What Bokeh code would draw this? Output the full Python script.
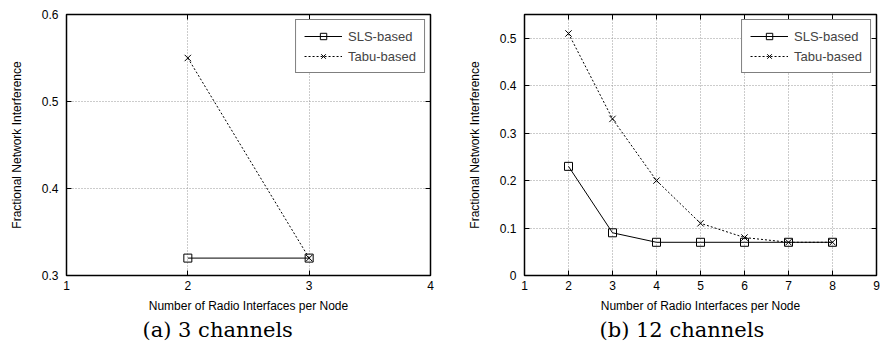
from bokeh.plotting import figure
from bokeh.layouts import row
from bokeh.models import (Range1d, FixedTicker, LinearAxis, Legend, LegendItem, Title,
                          CustomJSTickFormatter)
from bokeh.embed import file_html
from bokeh.resources import INLINE

# ---- data ----
a_x = [2, 3]
a_sls = [0.32, 0.32]
a_tabu = [0.55, 0.32]
a_xticks = [1, 2, 3, 4]
a_yticks = [0.3, 0.4, 0.5, 0.6]

b_x = [2, 3, 4, 5, 6, 7, 8]
b_sls = [0.23, 0.09, 0.07, 0.07, 0.07, 0.07, 0.07]
b_tabu = [0.51, 0.33, 0.20, 0.11, 0.08, 0.07, 0.07]
b_xticks = [1, 2, 3, 4, 5, 6, 7, 8, 9]
b_yticks = [0, 0.1, 0.2, 0.3, 0.4, 0.5]

series_names = ["SLS-based", "Tabu-based"]
captions = ["(a) 3 channels", "(b) 12 channels"]
xlabel = "Number of Radio Interfaces per Node"
ylabel = "Fractional Network Interference"

SANS = "Liberation Sans"
SERIF = "DejaVu Serif"


def style_axis(ax):
    ax.major_tick_in = 5
    ax.major_tick_out = 0
    ax.minor_tick_line_color = None
    ax.axis_line_color = "black"
    ax.major_tick_line_color = "black"
    ax.major_label_text_font = SANS
    ax.major_label_text_font_size = "12px"
    ax.major_label_text_color = "black"
    ax.axis_label_text_font = SANS
    ax.axis_label_text_font_size = "12px"
    ax.axis_label_text_font_style = "normal"
    ax.axis_label_text_color = "black"


def make_panel(xs, sls, tabu, xr, yr, xticks, yticks, caption, w, bl, br, overrides, cap_off):
    p = figure(width=w, height=341, output_backend="svg", toolbar_location=None,
               x_range=Range1d(*xr), y_range=Range1d(*yr),
               min_border_left=bl, min_border_right=br, min_border_top=14,
               min_border_bottom=62)
    p.background_fill_color = "white"
    p.border_fill_color = "white"
    p.outline_line_color = "black"
    p.outline_line_width = 1.5

    p.xaxis.ticker = FixedTicker(ticks=xticks)
    p.yaxis.ticker = FixedTicker(ticks=yticks)
    p.yaxis.major_label_overrides = overrides
    for ax in p.xaxis + p.yaxis:
        style_axis(ax)
    p.xaxis.axis_label = xlabel
    p.yaxis.axis_label = ylabel
    p.xaxis.major_label_standoff = 5
    p.xaxis.axis_label_standoff = 6
    p.yaxis.major_label_standoff = 8
    p.yaxis.axis_label_standoff = 15

    empty = CustomJSTickFormatter(code="return ''")
    top = LinearAxis(ticker=FixedTicker(ticks=xticks), formatter=empty)
    right = LinearAxis(ticker=FixedTicker(ticks=yticks), formatter=empty)
    for ax in (top, right):
        style_axis(ax)
        ax.major_label_standoff = 0
        ax.axis_label_standoff = 0
    p.add_layout(top, "above")
    p.add_layout(right, "right")

    for g in (p.xgrid[0], p.ygrid[0]):
        g.grid_line_color = "#999999"
        g.grid_line_dash = "1 2"
        g.grid_line_width = 1
    p.xgrid.ticker = FixedTicker(ticks=xticks)
    p.ygrid.ticker = FixedTicker(ticks=yticks)

    l1 = p.line(xs, sls, line_color="black", line_width=1)
    m1 = p.scatter(xs, sls, marker="square", size=8, fill_color=None,
                   line_color="black", line_width=1)
    l2 = p.line(xs, tabu, line_color="black", line_width=1, line_dash="2 2")
    m2 = p.scatter(xs, tabu, marker="x", size=9, line_color="black", line_width=1)

    leg = Legend(items=[LegendItem(label=series_names[0], renderers=[l1, m1]),
                        LegendItem(label=series_names[1], renderers=[l2, m2])],
                 location="top_right")
    leg.border_line_color = "black"
    leg.border_line_width = 1.5
    leg.label_text_font = SANS
    leg.label_text_font_size = "13px"
    leg.glyph_width = 38
    leg.glyph_height = 16
    leg.spacing = 4
    leg.padding = 8
    leg.margin = 5
    leg.label_standoff = 6
    leg.background_fill_alpha = 1
    p.add_layout(leg, "center")

    t = Title(text=caption, align="left", offset=cap_off, text_font=SERIF,
              text_font_size="21px", text_font_style="normal", text_color="black",
              standoff=0)
    p.add_layout(t, "below")
    return p


pa = make_panel(a_x, a_sls, a_tabu, (1, 4), (0.3, 0.6), a_xticks, a_yticks,
                captions[0], 444, 66, 14, {}, 76)
pb = make_panel(b_x, b_sls, b_tabu, (1, 9), (0, 0.55), b_xticks, b_yticks,
                captions[1], 436, 80, 4, {0: "0"}, 75)

layout = row(pa, pb)
open("out.html", "w").write(file_html(layout, INLINE))
